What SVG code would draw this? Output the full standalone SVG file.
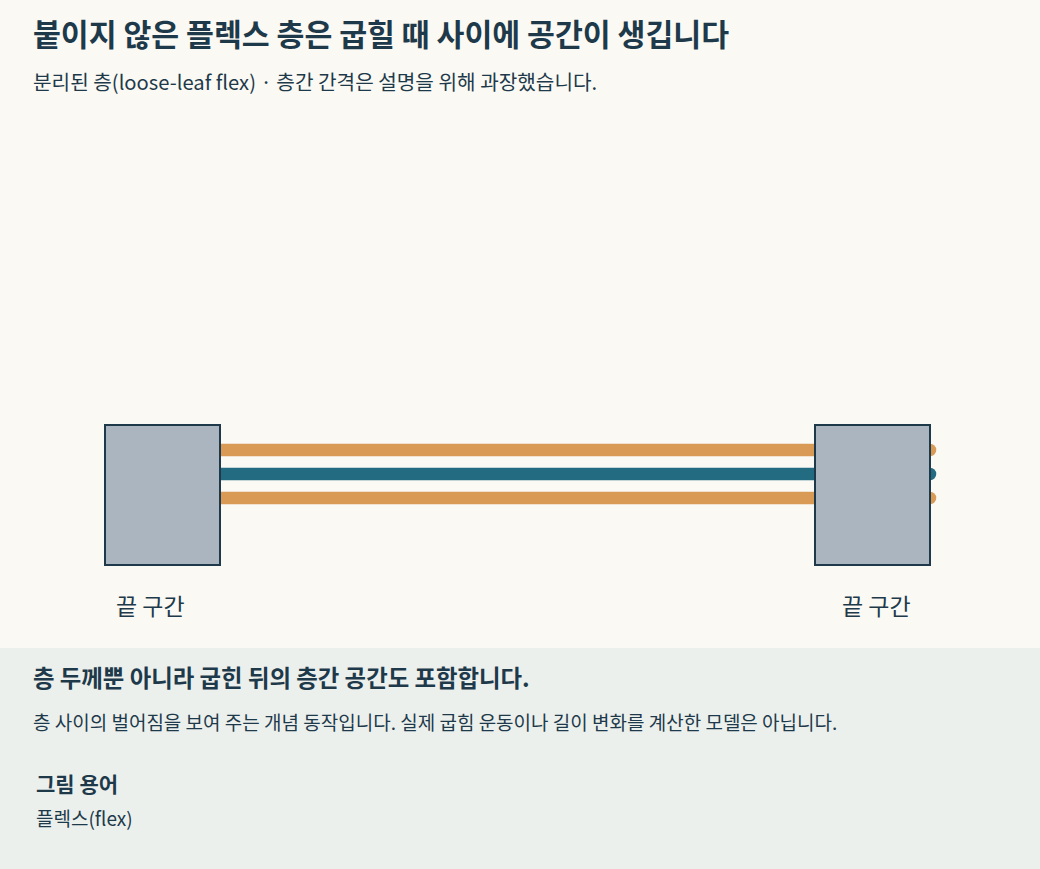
<svg xmlns="http://www.w3.org/2000/svg" width="1040" height="869" viewBox="0 0 1040 869">
<style>
text{font-family:"Noto Sans CJK KR","Noto Sans",sans-serif;fill:#1e3a4a}
.title{font-size:30.3px;font-weight:700}
.sub{font-size:20.2px}
.lbl{font-size:23px}
.h2{font-size:23.4px;font-weight:700}
.body{font-size:19px}
.h3{font-size:21px;font-weight:700}
.term{font-size:19px}
.seg{fill:#abb5bf;stroke:#1e3a4a;stroke-width:2}
.flex{fill:none;stroke:#d99a56;stroke-width:12.5;stroke-linecap:round}
.core{fill:none;stroke:#236b80;stroke-width:12.5;stroke-linecap:round}
</style>
<rect width="1040" height="869" fill="#faf9f4"/>
<text class="title" x="33" y="46">붙이지 않은 플렉스 층은 굽힐 때 사이에 공간이 생깁니다</text>
<text class="sub" x="33" y="90">분리된 층(loose-leaf flex) · 층간 간격은 설명을 위해 과장했습니다.</text>
<g id="connectors">
<line class="flex" x1="160" y1="450" x2="930" y2="450"/>
<line class="core" x1="160" y1="474" x2="930" y2="474"/>
<line class="flex" x1="160" y1="498" x2="930" y2="498"/>
</g>
<g id="end-left">
<rect class="seg" x="105" y="425" width="115" height="140"/>
<text class="lbl" x="116" y="615">끝 구간</text>
</g>
<g id="end-right">
<rect class="seg" x="815" y="425" width="115" height="140"/>
<text class="lbl" x="842" y="615">끝 구간</text>
</g>
<g id="caption">
<rect x="0" y="648" width="1040" height="221" fill="#ecf0ed"/>
<text class="h2" x="33" y="687">층 두께뿐 아니라 굽힌 뒤의 층간 공간도 포함합니다.</text>
<text class="body" x="33" y="730">층 사이의 벌어짐을 보여 주는 개념 동작입니다. 실제 굽힘 운동이나 길이 변화를 계산한 모델은 아닙니다.</text>
<text class="h3" x="36" y="792">그림 용어</text>
<text class="term" x="36" y="826">플렉스(flex)</text>
</g>
</svg>
